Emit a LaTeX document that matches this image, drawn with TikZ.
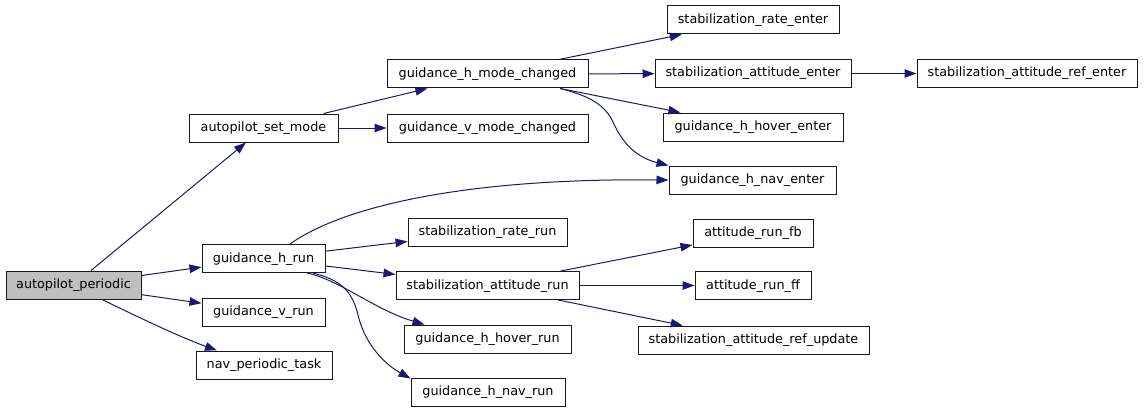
\documentclass[tikz,border=0pt]{standalone}
\usepackage{fontspec}
\setmainfont{DejaVu Sans}
\usetikzlibrary{arrows.meta,calc}
\definecolor{edgeblue}{HTML}{191970}
\definecolor{rootgray}{HTML}{BFBFBF}
\begin{document}
\begin{tikzpicture}[x=1pt,y=-1pt,
  fn/.style={draw=black!90, line width=1pt, rectangle, minimum height=28pt,
    inner sep=0pt, text height=9.6pt, text depth=2.6pt,
    font=\fontsize{12.8}{15}\selectfont},
  call/.style={draw=edgeblue, line width=1pt,
    -{Triangle[length=12pt,width=8.5pt,color=edgeblue,fill=edgeblue]}}]
\useasboundingbox[fill=white] (0,0) rectangle (1144,412);

% functions
\node[fn, fill=rootgray, minimum width=135pt] (ap)   at (73.5,285)  {autopilot\_periodic};
\node[fn, minimum width=149pt] (asm)  at (263.5,128)  {autopilot\_set\_mode};
\node[fn, minimum width=123pt] (ghr)  at (263.5,258.5){guidance\_h\_run};
\node[fn, minimum width=123pt] (gvr)  at (263.5,312)  {guidance\_v\_run};
\node[fn, minimum width=136pt] (npt)  at (264,365)    {nav\_periodic\_task};
\node[fn, minimum width=201pt] (ghmc) at (487.5,74)   {guidance\_h\_mode\_changed};
\node[fn, minimum width=201pt] (gvmc) at (487.5,128)  {guidance\_v\_mode\_changed};
\node[fn, minimum width=159pt] (srr)  at (487.5,232)  {stabilization\_rate\_run};
\node[fn, minimum width=183pt] (sar)  at (487.5,285.5){stabilization\_attitude\_run};
\node[fn, minimum width=167pt] (ghhr) at (487.5,339)  {guidance\_h\_hover\_run};
\node[fn, minimum width=154pt] (ghnr) at (488,392)    {guidance\_h\_nav\_run};
\node[fn, minimum width=172pt] (sre)  at (753,20)     {stabilization\_rate\_enter};
\node[fn, minimum width=196pt] (sae)  at (753,73.5)   {stabilization\_attitude\_enter};
\node[fn, minimum width=180pt] (ghhe) at (753,127)    {guidance\_h\_hover\_enter};
\node[fn, minimum width=167pt] (ghne) at (752.5,180)  {guidance\_h\_nav\_enter};
\node[fn, minimum width=120pt] (arfb) at (753,233)    {attitude\_run\_fb};
\node[fn, minimum width=116pt] (arff) at (753,285.5)  {attitude\_run\_ff};
\node[fn, minimum width=231pt] (saru) at (753.5,340)  {stabilization\_attitude\_ref\_update};
\node[fn, minimum width=220pt] (sare) at (1027,73.5)  {stabilization\_attitude\_ref\_enter};

% calls
\draw[call] (ap) -- (asm);
\draw[call] (ap) -- (ghr);
\draw[call] (ap) -- (gvr);
\draw[call] ($(ap.south)+(28.5,0)$) .. controls (140,318) and (180,337) .. ($(npt.north)+(-47,0)$);
\draw[call] (asm) -- (ghmc);
\draw[call] (asm) -- (gvmc);
\draw[call] (ghmc) -- (sre);
\draw[call] (ghmc) -- (sae);
\draw[call] (ghmc) -- (ghhe);
\draw[call] ($(ghmc.south)+(72.5,0)$) .. controls (590,96) and (605,105) .. (613,122)
  .. controls (622,142) and (635,157) .. (ghne.north west);
\draw[call] (sae) -- (sare);
\draw[call] ($(ghr.north)+(26.5,0)$) .. controls (345,205) and (470,178) .. (ghne.west);
\draw[call] (ghr) -- (srr);
\draw[call] (ghr) -- (sar);
\draw[call] ($(ghr.south)+(43.5,0)$) .. controls (340,280) and (375,310) .. ($(ghhr.north west)+(21,0)$);
\draw[call] ($(ghr.south)+(49.5,0)$) .. controls (340,280) and (352,290) .. (358,315)
  .. controls (366,348) and (388,366) .. ($(ghnr.north west)+(0,1)$);
\draw[call] (sar) -- (arfb);
\draw[call] (sar) -- (arff);
\draw[call] (sar) -- (saru);
\end{tikzpicture}
\end{document}
